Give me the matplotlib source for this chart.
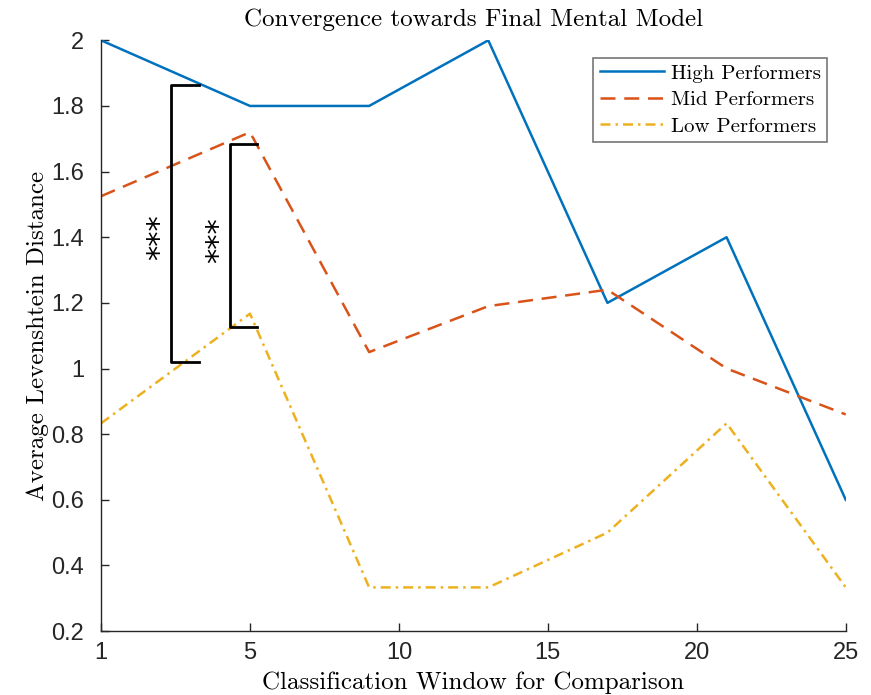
import matplotlib.pyplot as plt
import matplotlib.font_manager as fm

# x positions of the windows on the axis (first tick is labelled "1" but sits at 0)
windows = [0, 5, 9, 13, 17, 21, 25]
high = [2.0, 1.8, 1.8, 2.0, 1.2, 1.4, 0.6]
mid = [1.525, 1.72, 1.05, 1.19, 1.24, 1.0, 0.86]
low = [0.833, 1.167, 0.333, 0.333, 0.5, 0.833, 0.333]
labels = ['High Performers', 'Mid Performers', 'Low Performers']

xticks = [0, 5, 10, 15, 20, 25]
xticklabels = ['1', '5', '10', '15', '20', '25']
yticks = [0.2, 0.4, 0.6, 0.8, 1, 1.2, 1.4, 1.6, 1.8, 2]

# significance brackets: (x, hook end, y top, y bottom), star position
brackets = [(2.35, 3.3, 1.865, 1.02), (4.33, 5.23, 1.685, 1.125)]
stars = [(1.95, 1.40), (3.95, 1.39)]

names = {f.name for f in fm.fontManager.ttflist}
tickfont = 'Liberation Sans Narrow' if 'Liberation Sans Narrow' in names else 'Liberation Sans'
serif = 'cmr10'

fig = plt.figure(figsize=(8.71, 6.95), dpi=100)
ax = fig.add_axes([0.116, 0.092, 0.855, 0.85])

ax.plot(windows, high, color='#0072BD', lw=1.8, ls='-', label=labels[0])
ax.plot(windows, mid, color='#D95319', lw=1.8, ls=(0, (6, 3.5)), label=labels[1])
ax.plot(windows, low, color='#EDB120', lw=1.8, ls=(0, (4, 2, 1, 2)), label=labels[2])

for x, xe, yt, yb in brackets:
    ax.plot([xe, x, x, xe], [yt, yt, yb, yb], color='black', lw=2, solid_joinstyle='round')
for x, y in stars:
    ax.text(x, y, '***', rotation=90, ha='center', va='center', fontsize=22,
            family='DejaVu Sans')

ax.set_xlim(0, 25)
ax.set_ylim(0.2, 2)
ax.set_xticks(xticks)
ax.set_yticks(yticks)
ax.set_xticklabels(xticklabels, family=tickfont, fontsize=17)
ax.set_yticklabels(['%g' % t for t in yticks], family=tickfont, fontsize=17)
ax.tick_params(direction='in', length=6, width=1, colors='#262626')
ax.tick_params(axis='y', pad=12)
ax.tick_params(axis='x', pad=8)
for s in ['top', 'right']:
    ax.spines[s].set_visible(False)
for s in ['left', 'bottom']:
    ax.spines[s].set_color('#262626')
    ax.spines[s].set_linewidth(1)

ax.set_title('Convergence towards Final Mental Model', family=serif, fontsize=18, pad=10)
ax.set_xlabel('Classification Window for Comparison', family=serif, fontsize=18, labelpad=5)
ax.set_ylabel('Average Levenshtein Distance', family=serif, fontsize=18, labelpad=2)

leg = ax.legend(loc='upper right', bbox_to_anchor=(0.983, 0.981), prop={'family': serif, 'size': 15},
                fancybox=False, edgecolor='#555555', handlelength=3.1, labelspacing=0.38,
                borderpad=0.3, handletextpad=0.3, borderaxespad=0.3)
leg.get_frame().set_linewidth(1.2)

fig.savefig('out.png', dpi=100)
